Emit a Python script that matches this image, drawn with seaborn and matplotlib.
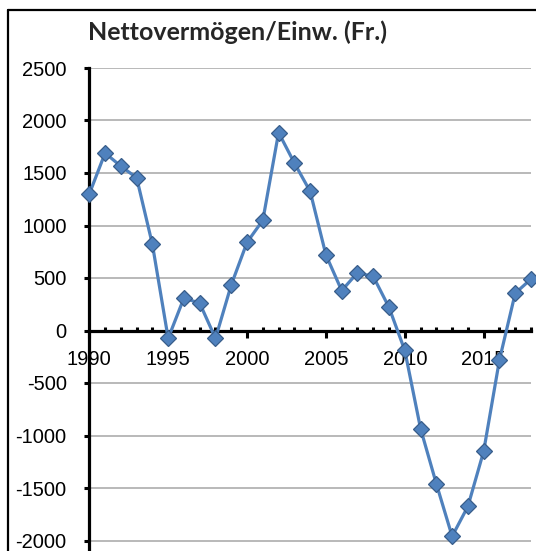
import matplotlib
matplotlib.use("Agg")
import matplotlib.pyplot as plt
import seaborn as sns
import pandas as pd
from matplotlib.lines import Line2D
from matplotlib.ticker import MultipleLocator

# ---- data ----
years = list(range(1990, 2019))
values = [1300, 1690, 1565, 1455, 820, -75, 310, 260, -75, 435,
          840, 1050, 1885, 1595, 1325, 720, 380, 550, 515, 220,
          -190, -935, -1460, -1960, -1675, -1150, -280, 355, 490]
yticks = [-2000, -1500, -1000, -500, 0, 500, 1000, 1500, 2000, 2500]
xticks = [1990, 1995, 2000, 2005, 2010, 2015]
title = "Nettovermögen/Einw. (Fr.)"

df = pd.DataFrame({"Jahr": years, "Wert": values})

sns.set_style("white")
plt.rcParams["font.family"] = ["Liberation Sans", "DejaVu Sans"]

W, H = 536, 551
fig = plt.figure(figsize=(W / 100, H / 100), dpi=100)
x0, x1 = 89.3, 531.0
y_top, y_bot = 68.0, 593.0
ax = fig.add_axes([x0 / W, 1 - y_bot / H, (x1 - x0) / W, (y_bot - y_top) / H])

sns.lineplot(data=df, x="Jahr", y="Wert", ax=ax, color="#4F81BD", lw=2.3,
             marker="D", markersize=8, markerfacecolor="#4F81BD",
             markeredgecolor="#385D8A", markeredgewidth=0.9,
             clip_on=False, zorder=3)

ax.set_xlim(1990, 2018)
ax.set_ylim(-2500, 2500)
ax.set_yticks(yticks)
ax.set_xticks(xticks)
ax.set_xticklabels([str(t) for t in xticks])
ax.set_yticklabels([str(t) for t in yticks])
ax.xaxis.set_minor_locator(MultipleLocator(1))
ax.set_xlabel("")
ax.set_ylabel("")

ax.yaxis.grid(True, color="#a6a6a6", lw=1.1, zorder=0)
ax.xaxis.grid(False)
ax.set_axisbelow(True)

for s in ["top", "right"]:
    ax.spines[s].set_visible(False)
ax.spines["left"].set_linewidth(2.3)
ax.spines["left"].set_color("black")
ax.spines["bottom"].set_linewidth(2.3)
ax.spines["bottom"].set_color("black")
ax.spines["bottom"].set_position(("data", 0))
ax.spines["left"].set_zorder(2.6)
ax.spines["bottom"].set_zorder(2.6)

ax.tick_params(axis="y", which="major", direction="out", length=3.8, width=2.2,
               pad=12.5, labelsize=14.5, colors="black", left=True)
ax.tick_params(axis="x", which="major", direction="out", length=5, width=2.2,
               pad=9, labelsize=14.5, colors="black", bottom=True)
ax.tick_params(axis="x", which="minor", direction="in", length=3, width=2.2,
               colors="black", bottom=True)

fig.text(238 / W, 1 - 32 / H, title, ha="center", va="center",
         fontsize=18, fontweight="bold", family=["Lato", "DejaVu Sans"])

# outer frame (left and top edges visible in the crop)
fx, fy = 8 / W, 1 - 10 / H
fig.add_artist(Line2D([fx, fx], [0, fy], transform=fig.transFigure, color="black", lw=1.6))
fig.add_artist(Line2D([fx, 1], [fy, fy], transform=fig.transFigure, color="black", lw=1.6))

fig.savefig("out.png", dpi=100)
